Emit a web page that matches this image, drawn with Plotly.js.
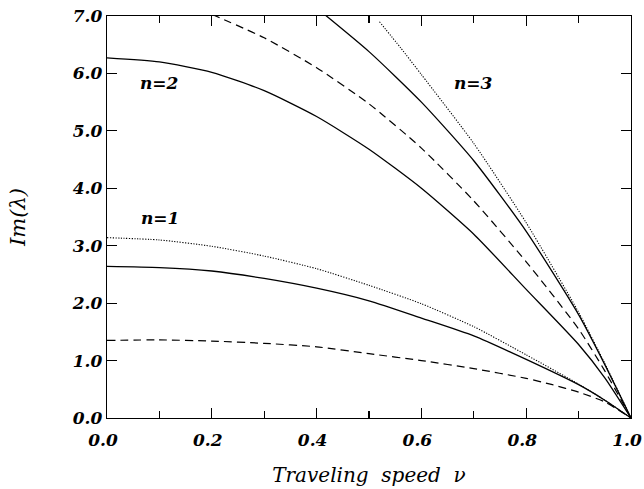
<!DOCTYPE html>
<html>
<head>
<meta charset="utf-8">
<script src="https://cdn.plot.ly/plotly-3.0.1.min.js"></script>
<style>html,body{margin:0;padding:0;background:#fff;}#plot{width:644px;height:489px;}</style>
</head>
<body>
<div id="plot"></div>
<script>
// n=1 curves
const n1DashX = [0, 0.1, 0.2, 0.3, 0.4, 0.5, 0.6, 0.7, 0.8, 0.85, 0.9, 0.95, 1.0];
const n1DashY = [1.35, 1.36, 1.34, 1.30, 1.24, 1.12, 1.00, 0.86, 0.69, 0.58, 0.45, 0.28, 0];
const n1SolidX = [0, 0.1, 0.2, 0.3, 0.4, 0.5, 0.6, 0.7, 0.8, 0.9, 0.95, 1.0];
const n1SolidY = [2.64, 2.62, 2.56, 2.43, 2.26, 2.04, 1.74, 1.43, 1.02, 0.58, 0.31, 0];
const n1DotX = [0, 0.1, 0.2, 0.3, 0.4, 0.5, 0.6, 0.7, 0.8, 0.9, 0.95, 1.0];
const n1DotY = [3.14, 3.10, 2.99, 2.82, 2.60, 2.31, 1.99, 1.59, 1.10, 0.59, 0.31, 0];
// n=2 curves
const n2SolidX = [0, 0.1, 0.2, 0.3, 0.4, 0.5, 0.6, 0.7, 0.8, 0.9, 0.95, 1.0];
const n2SolidY = [6.27, 6.20, 6.02, 5.70, 5.25, 4.68, 4.00, 3.20, 2.24, 1.28, 0.70, 0];
const n2DashX = [0.2, 0.3, 0.4, 0.5, 0.6, 0.7, 0.8, 0.9, 0.95, 1.0];
const n2DashY = [7.03, 6.62, 6.10, 5.47, 4.70, 3.78, 2.72, 1.55, 0.82, 0];
// n=3 curves
const n3SolidX = [0.4, 0.5, 0.6, 0.7, 0.8, 0.9, 0.95, 1.0];
const n3SolidY = [7.14, 6.38, 5.50, 4.48, 3.25, 1.80, 0.93, 0];
const n3DotX = [0.52, 0.56, 0.6, 0.7, 0.8, 0.9, 0.95, 1.0];
const n3DotY = [6.90, 6.45, 5.98, 4.78, 3.40, 1.84, 0.95, 0];

// ticks
const xTickVals = [0, 0.2, 0.4, 0.6, 0.8, 1.0];
const xTickText = ["0.0", "0.2", "0.4", "0.6", "0.8", "1.0"];
const yTickVals = [0, 1, 2, 3, 4, 5, 6, 7];
const yTickText = ["0.0", "1.0", "2.0", "3.0", "4.0", "5.0", "6.0", "7.0"];

// curve labels
const labels = ["n=1", "n=2", "n=3"];
const labelX = [0.101, 0.101, 0.70];
const labelY = [3.48, 5.83, 5.83];

const SERIF = "DejaVu Serif, serif";
const solid = {color: "#000", width: 1.3};
const dashed = {color: "#000", width: 1.2, dash: "8px,5px"};
const dotted = {color: "#000", width: 1.1, dash: "1.2px,1.5px"};

function tr(x, y, line) {
  const l = Object.assign({}, line, {shape: "spline", smoothing: 0.6});
  return {x: x, y: y, type: "scatter", mode: "lines", line: l, hoverinfo: "skip", showlegend: false};
}

const data = [
  tr(n1DashX, n1DashY, dashed),
  tr(n1SolidX, n1SolidY, solid),
  tr(n1DotX, n1DotY, dotted),
  tr(n2SolidX, n2SolidY, solid),
  tr(n2DashX, n2DashY, dashed),
  tr(n3SolidX, n3SolidY, solid),
  tr(n3DotX, n3DotY, dotted)
];

const tickFont = {family: SERIF, size: 17, color: "#000", style: "italic", weight: "bold"};

const layout = {
  width: 644, height: 489,
  margin: {l: 106.5, r: 12.5, t: 16, b: 71},
  paper_bgcolor: "#fff", plot_bgcolor: "#fff",
  showlegend: false,
  xaxis: {
    range: [0, 1.0], tickmode: "array", tickvals: xTickVals, ticktext: xTickText,
    ticks: "inside", ticklen: 10, tickwidth: 1.2, tickcolor: "#000",
    minor: {dtick: 0.1, tick0: 0, ticks: "inside", ticklen: 7, tickwidth: 1.2, tickcolor: "#000", showgrid: false},
    showline: true, linecolor: "#000", linewidth: 1.3, mirror: "ticks",
    showgrid: false, zeroline: false, ticklabeloverflow: "allow", ticklabelshift: -4, ticklabelstandoff: 6,
    tickfont: tickFont,
    title: {text: "Traveling  speed  ν", font: {family: SERIF, size: 20, color: "#000", style: "italic"}, standoff: 19}
  },
  yaxis: {
    range: [0, 7.0], tickmode: "array", tickvals: yTickVals, ticktext: yTickText,
    ticks: "inside", ticklen: 10, tickwidth: 1.2, tickcolor: "#000",
    showline: true, linecolor: "#000", linewidth: 1.3, mirror: "ticks",
    showgrid: false, zeroline: false, ticklabeloverflow: "allow",
    tickfont: tickFont,
    title: {text: "Im(λ)", font: {family: SERIF, size: 21, color: "#000", style: "italic"}, standoff: 40}
  },
  annotations: labels.map((t, i) => ({
    x: labelX[i], y: labelY[i], xref: "x", yref: "y", text: t, showarrow: false,
    font: {family: SERIF, size: 17, color: "#000", style: "italic", weight: "bold"}
  }))
};

Plotly.newPlot("plot", data, layout, {staticPlot: true, displayModeBar: false});
</script>
</body>
</html>
